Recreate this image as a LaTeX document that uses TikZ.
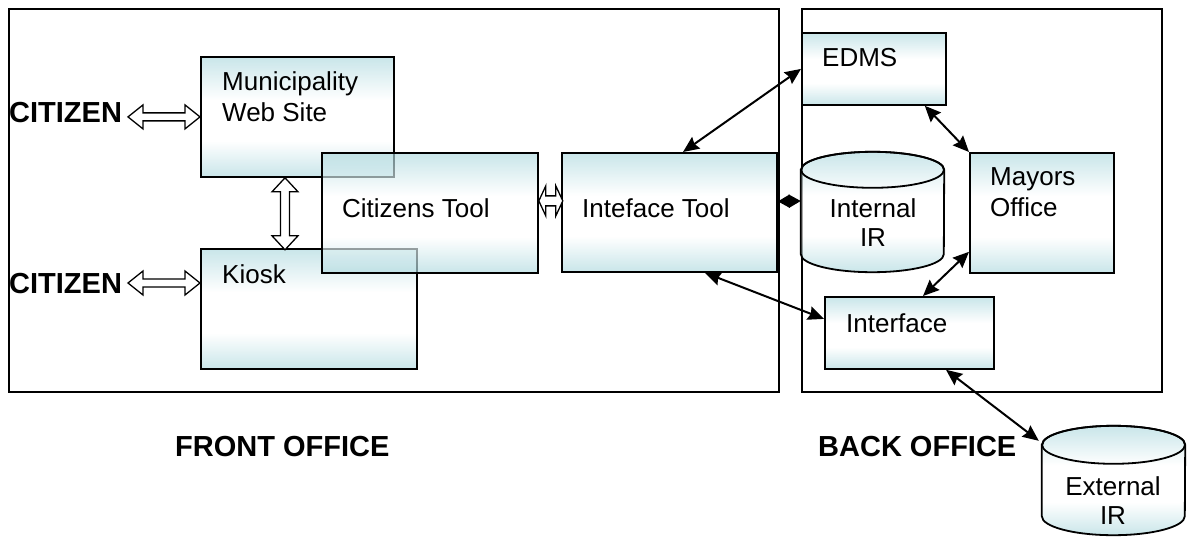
\documentclass[tikz,border=0pt]{standalone}
\usepackage{fontspec}
\setmainfont{Liberation Sans}
\usetikzlibrary{arrows.meta,calc}
\definecolor{cy}{RGB}{172,216,222}
\pgfdeclareverticalshading{boxshade}{100bp}{color(0bp)=(cy); color(25bp)=(cy); color(40bp)=(white); color(57bp)=(white); color(75bp)=(cy); color(100bp)=(cy)}
\tikzset{
  box/.style={draw, line width=1.8pt, shade, shading=boxshade, fill opacity=0.65, draw opacity=1, inner sep=0pt, anchor=north west},
  frame/.style={draw, line width=1.6pt, inner sep=0pt, anchor=north west},
  txt/.style={font=\fontsize{26}{31}\selectfont, inner sep=0pt, anchor=base west, align=left},
  ctxt/.style={font=\fontsize{26}{29}\selectfont, inner sep=0pt, anchor=base, align=center},
  btxt/.style={font=\fontsize{29}{34}\selectfont\bfseries, inner sep=0pt, anchor=base west},
  conn/.style={line width=2pt, {Stealth[length=16pt,width=14pt,inset=2pt]}-{Stealth[length=16pt,width=14pt,inset=2pt]}},
  pics/hollowdbl/.style args={#1/#2/#3/#4}{code={
    \draw[line width=1.3pt, fill=white] (0,0) -- (#4,#3) -- (#4,#2) -- ({#1-#4},#2) -- ({#1-#4},#3) -- (#1,0) -- ({#1-#4},-#3) -- ({#1-#4},-#2) -- (#4,-#2) -- (#4,-#3) -- cycle;}}
}
\begin{document}
\begin{tikzpicture}[x=1pt,y=1pt]
\useasboundingbox (0,0) rectangle (1190,-537);
% frames
\node[frame, minimum width=770, minimum height=383] (front) at (8,-8) {};
\node[frame, minimum width=360, minimum height=383] (back) at (801,-8) {};
% front office boxes
\node[box, minimum width=193, minimum height=120] (web) at (200,-56) {};
\node[box, minimum width=216, minimum height=120] (kiosk) at (200,-248) {};
\node[box, minimum width=216, minimum height=120] (ctool) at (321,-152) {};
\node[box, minimum width=215, minimum height=119] (itool) at (561,-152) {};
% back office boxes
\node[box, minimum width=144, minimum height=72] (edms) at (801,-32) {};
\node[box, minimum width=144, minimum height=120] (mayor) at (969,-152) {};
\node[box, minimum width=169, minimum height=72] (intf) at (824,-296) {};
% cylinders
\node[inner sep=0pt, minimum width=143, minimum height=120] (iir) at (872.5,-212) {};
\path[draw, line width=1.8pt, shade, shading=boxshade, fill opacity=0.65, draw opacity=1]
  (iir.north west) ++(0,-18) -- ($(iir.south west)+(0,18)$) arc[start angle=180, end angle=360, x radius=71.5, y radius=18]
  -- ($(iir.north east)+(0,-18)$) arc[start angle=0, end angle=180, x radius=71.5, y radius=18] -- cycle;
\draw[line width=1.8pt] ($(iir.north)+(0,-18)$) ellipse[x radius=71.5, y radius=18];
\node[inner sep=0pt, minimum width=143, minimum height=109] (eir) at (1113.5,-480.5) {};
\path[draw, line width=1.8pt, shade, shading=boxshade, fill opacity=0.65, draw opacity=1]
  (eir.north west) ++(0,-19) -- ($(eir.south west)+(0,19)$) arc[start angle=180, end angle=360, x radius=71.5, y radius=19]
  -- ($(eir.north east)+(0,-19)$) arc[start angle=0, end angle=180, x radius=71.5, y radius=19] -- cycle;
\draw[line width=1.8pt] ($(eir.north)+(0,-19)$) ellipse[x radius=71.5, y radius=19];
% texts
\node[txt] (webt) at (222,-122) {Municipality\\Web Site};
\node[txt] (kioskt) at (222,-283) {Kiosk};
\node[txt] (ctoolt) at (342,-218) {Citizens Tool};
\node[txt] (itoolt) at (582,-218) {Inteface Tool};
\node[txt] (edmst) at (822,-67) {EDMS};
\node[txt] (mayort) at (990,-217) {Mayors\\Office};
\node[txt] (intft) at (846,-332) {Interface};
\node[ctxt] (iirt) at (873,-247) {Internal\\IR};
\node[ctxt] (eirt) at (1113,-524) {External\\IR};
\node[btxt] (cit1) at (9,-123) {CITIZEN};
\node[btxt] (cit2) at (9,-293) {CITIZEN};
\node[btxt] (fo) at (175,-456) {FRONT OFFICE};
\node[btxt] (bo) at (818,-456) {BACK OFFICE};
% hollow double arrows
\pic at ($(web.west)+(-72,0)$) {hollowdbl=72/4/12/15};
\pic at ($(kiosk.north west)+(-72,-35)$) {hollowdbl=72/4/12/15};
\pic[rotate=-90] at ($(web.south west)+(85,0)$) {hollowdbl=72/4.5/13/14};
\pic at ($(ctool.east)+(0,12)$) {hollowdbl=24/5/15/7};
% black connectors
\draw[conn] ($(itool.north west)+(122,0)$) -- (edms.west);
\draw[conn] ($(edms.south east)+(-22,0)$) -- (mayor.north west);
\draw[conn] ($(mayor.south west)+(0,22)$) -- ($(intf.north west)+(99,0)$);
\draw[conn] ($(itool.south west)+(144,0)$) -- ($(intf.west)+(0,14)$);
\draw[conn] ($(intf.south west)+(122,0)$) -- ($(eir.north west)+(-3,-15)$);
\draw[line width=2pt, {Triangle[length=12pt,width=13pt]}-{Triangle[length=12pt,width=13pt]}] ($(itool.east)+(0,11)$) -- ($(iir.west)+(0,11)$);
\end{tikzpicture}
\end{document}
